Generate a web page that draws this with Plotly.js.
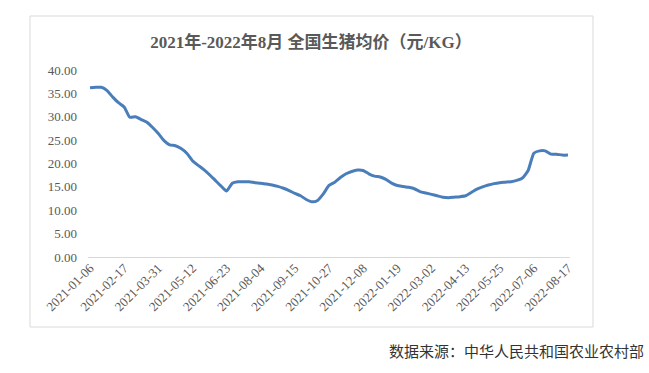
<!DOCTYPE html>
<html>
<head>
<meta charset="utf-8">
<script src="https://cdn.plot.ly/plotly-3.0.1.min.js"></script>
<style>
  html, body { margin: 0; padding: 0; background: #ffffff; }
  #chart { width: 649px; height: 373px; }
</style>
</head>
<body>
<div id="chart"></div>
<script>
// Weekly national average live hog price (yuan/kg), 2021-01-06 .. 2022-08-17
const startDate = '2021-01-06';
const prices = [
  36.2, 36.3, 36.3, 35.6, 34.2, 33.0, 32.1, 29.9, 30.0, 29.4,
  28.8, 27.7, 26.4, 24.9, 24.0, 23.8, 23.2, 22.2, 20.6, 19.6,
  18.7, 17.6, 16.4, 15.2, 14.1, 15.8, 16.1, 16.1, 16.1, 15.9,
  15.8, 15.6, 15.4, 15.1, 14.7, 14.2, 13.6, 13.1, 12.3, 11.8,
  12.1, 13.5, 15.3, 16.0, 17.0, 17.8, 18.3, 18.6, 18.5, 17.8,
  17.3, 17.1, 16.6, 15.8, 15.3, 15.1, 14.9, 14.6, 14.0, 13.7,
  13.4, 13.1, 12.8, 12.7, 12.8, 12.9, 13.1, 13.8, 14.5, 15.0,
  15.4, 15.7, 15.9, 16.0, 16.1, 16.4, 16.9, 18.5, 22.2, 22.7,
  22.7, 22.0, 22.0, 21.8, 21.8
];
const tickDates = [
  '2021-01-06', '2021-02-17', '2021-03-31', '2021-05-12', '2021-06-23',
  '2021-08-04', '2021-09-15', '2021-10-27', '2021-12-08', '2022-01-19',
  '2022-03-02', '2022-04-13', '2022-05-25', '2022-07-06', '2022-08-17'
];
const yTicks = [0, 5, 10, 15, 20, 25, 30, 35, 40];
const titleText = '2021年-2022年8月 全国生猪均价（元/KG）';
const sourceText = '数据来源：中华人民共和国农业农村部';

// weekly dates built from the start date
const dates = prices.map((_, i) => {
  const d = new Date(startDate + 'T00:00:00Z');
  d.setUTCDate(d.getUTCDate() + 7 * i);
  return d.toISOString().slice(0, 10);
});

const serif = 'Liberation Serif';
const cjk = 'Liberation Serif, Noto Sans CJK SC';

const trace = {
  type: 'scatter',
  mode: 'lines',
  x: dates,
  y: prices,
  line: { color: '#4a7ebb', width: 3, shape: 'spline', smoothing: 0.5 },
  hoverinfo: 'skip'
};

const layout = {
  width: 649,
  height: 373,
  margin: { l: 88, r: 79, t: 70, b: 116 },
  paper_bgcolor: '#ffffff',
  plot_bgcolor: '#ffffff',
  showlegend: false,
  font: { family: serif },
  title: {
    text: '<b>' + titleText + '</b>',
    font: { family: cjk, size: 17, color: '#595959' },
    xref: 'container', x: 311 / 649, xanchor: 'center',
    yref: 'container', y: 1 - 42 / 373, yanchor: 'middle'
  },
  xaxis: {
    type: 'date',
    range: ['2021-01-03 12:00', '2022-08-19 12:00'],
    tickmode: 'array',
    tickvals: tickDates,
    ticktext: tickDates,
    tickangle: -45,
    showgrid: false,
    zeroline: false,
    showline: false,
    ticks: '',
    tickfont: { family: serif, size: 13, color: '#595959' }
  },
  yaxis: {
    range: [0, 40],
    tickmode: 'array',
    tickvals: yTicks,
    ticktext: yTicks.map(v => v.toFixed(2)),
    showgrid: false,
    zeroline: true,
    zerolinecolor: '#d9d9d9',
    zerolinewidth: 1,
    showline: false,
    ticks: '',
    ticklabelstandoff: 10,
    tickfont: { family: serif, size: 13, color: '#595959' }
  },
  shapes: [{
    type: 'rect',
    xref: 'paper', yref: 'paper',
    x0: (30 - 88) / 482, x1: (593 - 88) / 482,
    y0: (257 - 327) / 187, y1: (257 - 16) / 187,
    line: { color: '#d9d9d9', width: 1 },
    fillcolor: 'rgba(0,0,0,0)',
    layer: 'below'
  }],
  annotations: [{
    text: sourceText,
    xref: 'paper', yref: 'paper',
    x: (646 - 88) / 482, y: (257 - 350) / 187,
    xanchor: 'right', yanchor: 'middle',
    showarrow: false,
    font: { family: 'Noto Sans CJK SC', size: 15, color: '#333333' }
  }]
};

Plotly.newPlot('chart', [trace], layout, { displayModeBar: false, staticPlot: true });
</script>
</body>
</html>
